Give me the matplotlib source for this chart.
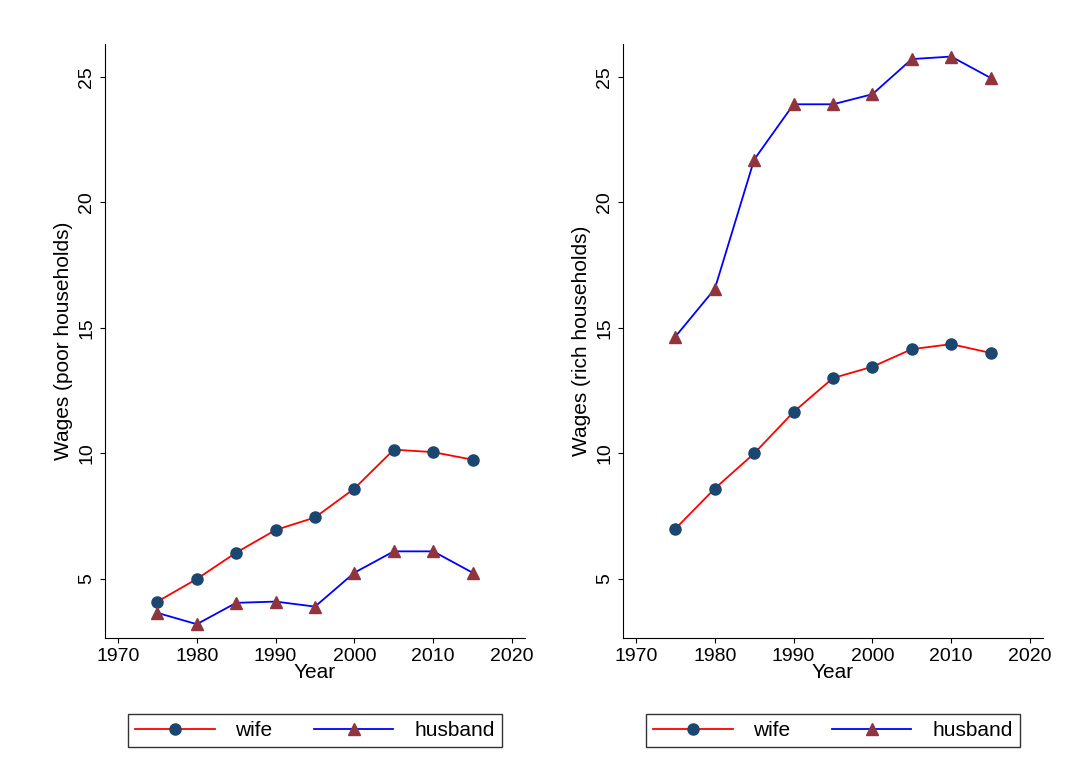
import matplotlib

matplotlib.use("Agg")
import matplotlib.pyplot as plt

years = [1975, 1980, 1985, 1990, 1995, 2000, 2005, 2010, 2015]
poor_wife = [4.1, 5.0, 6.05, 6.95, 7.45, 8.6, 10.15, 10.05, 9.75]
poor_husband = [3.65, 3.2, 4.05, 4.1, 3.9, 5.25, 6.1, 6.1, 5.25]
rich_wife = [7.0, 8.6, 10.0, 11.65, 13.0, 13.45, 14.15, 14.35, 14.0]
rich_husband = [14.65, 16.55, 21.7, 23.9, 23.9, 24.3, 25.7, 25.8, 24.95]

plt.rcParams["font.family"] = "Liberation Sans"

fig = plt.figure(figsize=(10.73, 7.84), dpi=100)
W, H = 1073, 784
panels = [
    (105, poor_wife, poor_husband, "Wages (poor households)"),
    (623, rich_wife, rich_husband, "Wages (rich households)"),
]
for left, wife, husband, ylabel in panels:
    ax = fig.add_axes([left / W, 1 - 638 / H, 420 / W, 594 / H])
    ax.plot(years, wife, color="red", lw=1.3, marker="o", ms=8,
            mfc="#1a476f", mec="#1a476f", label="wife")
    ax.plot(years, husband, color="blue", lw=1.3, marker="^", ms=8,
            mfc="#90353b", mec="#90353b", label="husband")
    ax.set_xlim(1968.35, 2021.65)
    ax.set_ylim(2.65, 26.3)
    ax.set_xticks(range(1970, 2021, 10))
    ax.set_yticks([5, 10, 15, 20, 25])
    ax.tick_params(axis="y", labelrotation=90, labelsize=14)
    ax.tick_params(axis="x", labelsize=14)
    for t in ax.get_yticklabels():
        t.set_va("center")
    ax.set_xlabel("Year", fontsize=15, labelpad=-1)
    ax.set_ylabel(ylabel, fontsize=15)
    ax.spines["top"].set_visible(False)
    ax.spines["right"].set_visible(False)
    ax.legend(loc="upper center", bbox_to_anchor=(0.5, -0.11), ncol=2,
              fontsize=15, frameon=True, fancybox=False, edgecolor="black",
              handlelength=3.8, columnspacing=2.0, borderpad=0.35,
              handletextpad=1.0)

fig.savefig("out.png", dpi=100, facecolor="white")
